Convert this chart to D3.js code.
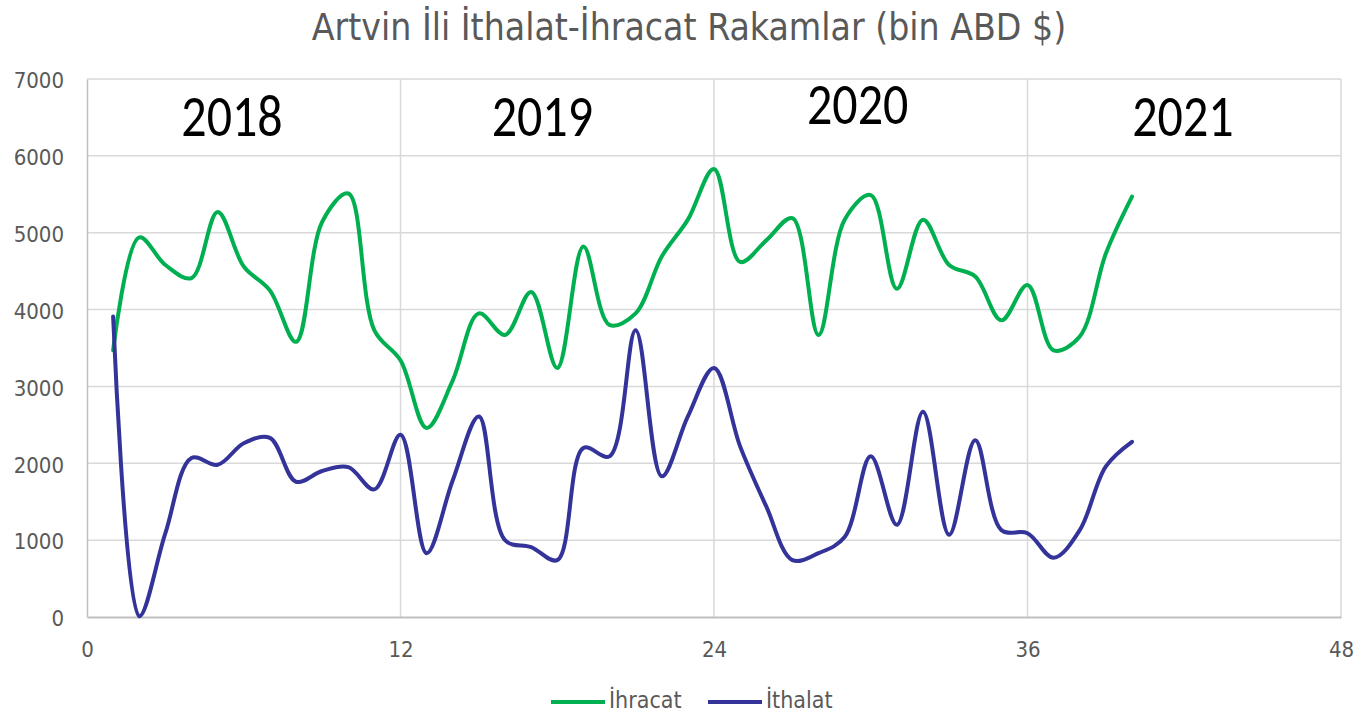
<!DOCTYPE html>
<html>
<head>
<meta charset="utf-8">
<script src="https://cdn.jsdelivr.net/npm/d3@7"></script>
<style>
  body { margin: 0; background: #fff; }
  text { font-family: Tahoma, "DejaVu Sans Condensed", "DejaVu Sans", sans-serif; }
</style>
</head>
<body>
<svg id="chart" width="1357" height="715"></svg>
<script>
// months 1..40 (Jan 2018 - Apr 2021)
const months = d3.range(1, 41);
const ihracat = [3470, 4940, 4580, 4410, 5270, 4560, 4250, 3580, 5140, 5510, 3730, 3340,
                 2460, 3080, 3950, 3670, 4230, 3240, 4820, 3800, 3950, 4690, 5170, 5830,
                 4620, 4900, 5190, 3670, 5170, 5490, 4270, 5170, 4580, 4430, 3860, 4320,
                 3470, 3650, 4730, 5470];
const ithalat = [3910, 10, 1090, 2070, 1980, 2260, 2330, 1760, 1900, 1950, 1660, 2370,
                 830, 1780, 2610, 1000, 910, 740, 2200, 2090, 3730, 1830, 2610, 3240,
                 2220, 1440, 740, 830, 1040, 2090, 1200, 2670, 1070, 2300, 1130, 1090,
                 770, 1130, 1960, 2280];
const years = ["2018", "2019", "2020", "2021"];
const yearPos = [5.55, 17.43, 29.5, 41.95];
const yearY = [6258, 6258, 6414, 6258];
const xTicks = [0, 12, 24, 36, 48];
const yTicks = d3.range(0, 7001, 1000);

const series = [
  { name: "İhracat", values: ihracat, color: "#00B050" },
  { name: "İthalat", values: ithalat, color: "#333399" }
];

const svg = d3.select("#chart");
const margin = { left: 87, right: 16, top: 79, bottom: 98 };
const W = 1357, H = 715;
const tahoma = "Tahoma, 'DejaVu Sans Condensed', 'DejaVu Sans', sans-serif";

const x = d3.scaleLinear().domain([0, 48]).range([margin.left, W - margin.right]);
const y = d3.scaleLinear().domain([0, 7000]).range([H - margin.bottom, margin.top]);

// title
svg.append("text")
  .attr("x", 689).attr("y", 40)
  .attr("text-anchor", "middle")
  .style("font-size", "37px")
  .style("fill", "#595959")
  .text("Artvin İli İthalat-İhracat Rakamlar (bin ABD $)");

// gridlines
svg.append("g").selectAll("line.h")
  .data(yTicks.filter(d => d > 0))
  .enter().append("line")
  .attr("x1", x(0)).attr("x2", x(48))
  .attr("y1", d => y(d)).attr("y2", d => y(d))
  .style("stroke", "#d9d9d9").style("stroke-width", 1.5);

svg.append("g").selectAll("line.v")
  .data(xTicks.filter(d => d > 0))
  .enter().append("line")
  .attr("x1", d => x(d)).attr("x2", d => x(d))
  .attr("y1", y(0)).attr("y2", y(7000))
  .style("stroke", "#d9d9d9").style("stroke-width", 1.5);

// axes
const xAxis = svg.append("g")
  .attr("transform", "translate(0," + y(0) + ")")
  .call(d3.axisBottom(x).tickValues(xTicks).tickSize(0).tickPadding(24));
xAxis.select(".domain").style("stroke", "#bfbfbf").style("stroke-width", 2);

const yAxis = svg.append("g")
  .attr("transform", "translate(" + x(0) + ",0)")
  .call(d3.axisLeft(y).tickValues(yTicks).tickSize(0).tickPadding(23).tickFormat(d3.format("d")));
yAxis.select(".domain").style("stroke", "#bfbfbf").style("stroke-width", 1.5);
yAxis.selectAll(".tick text").attr("dy", "0.4em");

svg.selectAll(".tick text")
  .style("font-family", tahoma)
  .style("font-size", "22px")
  .style("fill", "#595959");

// year labels (tall, narrow look of the original)
svg.append("g").selectAll("text")
  .data(years)
  .enter().append("text")
  .attr("transform", (d, i) => "translate(" + x(yearPos[i]) + "," + y(yearY[i]) + ") scale(1,1.2)")
  .attr("text-anchor", "middle")
  .style("font-family", "Carlito, 'Liberation Sans', 'Open Sans', sans-serif")
  .style("font-size", "50px")
  .style("fill", "#000")
  .text(d => d);

// lines
const line = d3.line()
  .x((d, i) => x(months[i]))
  .y(d => y(d))
  .curve(d3.curveCatmullRom.alpha(0.5));

svg.append("g").selectAll("path")
  .data(series)
  .enter().append("path")
  .attr("d", d => line(d.values))
  .style("fill", "none")
  .style("stroke", d => d.color)
  .style("stroke-width", 4)
  .style("stroke-linecap", "round");

// legend
const legend = svg.append("g").attr("transform", "translate(551,702)");
const legX = [0, 157];
const item = legend.selectAll("g")
  .data(series)
  .enter().append("g")
  .attr("transform", (d, i) => "translate(" + legX[i] + ",0)");
item.append("line")
  .attr("x1", 0).attr("x2", 54)
  .style("stroke", d => d.color)
  .style("stroke-width", 4);
item.append("text")
  .attr("x", 58).attr("y", 6)
  .style("font-size", "23px")
  .style("fill", "#595959")
  .text(d => d.name);
</script>
</body>
</html>
